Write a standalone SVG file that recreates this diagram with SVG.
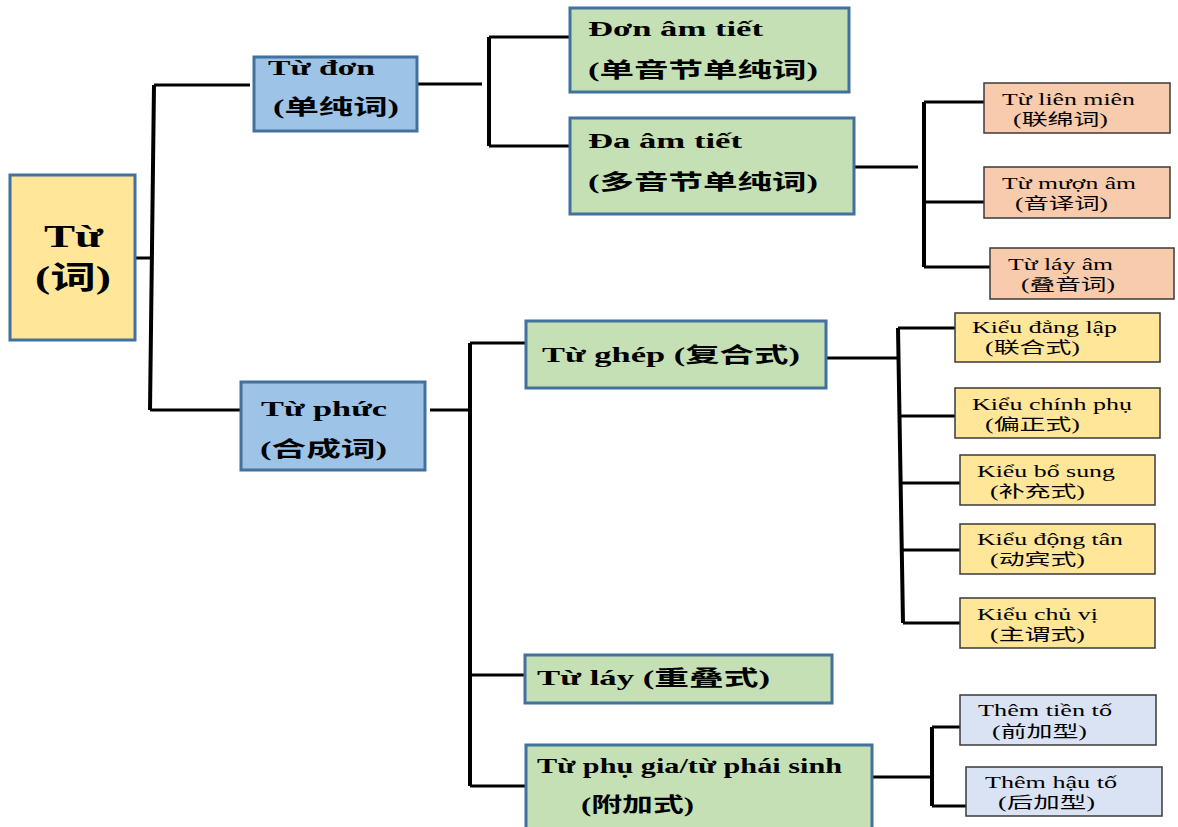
<svg xmlns="http://www.w3.org/2000/svg" width="1178" height="827" viewBox="0 0 1178 827">
<style>
.b{font-family:'Liberation Serif','Noto Sans CJK SC',serif;font-weight:bold;fill:#000}
.r{font-family:'Liberation Serif','Noto Sans CJK SC',serif;font-weight:normal;fill:#000}
.main{stroke:#41719C;stroke-width:3}
.small{stroke:#3A3A3A;stroke-width:1.5}
.c path{fill:none;stroke:#000;stroke-width:3}
.c path.v{stroke-width:4}
</style>
<rect width="1178" height="827" fill="#fff"/>
<g class="c" id="connectors">
<path d="M135 258H152"/><path class="v" d="M154 85L150 410"/><path d="M154 85H250"/><path d="M150 410H243"/>
<path d="M418 84H482"/><path class="v" d="M489 37V146"/><path d="M489 37H571"/><path d="M489 146H571"/>
<path d="M855 167H918"/><path class="v" d="M924 102V267"/><path d="M924 102H984"/><path d="M924 202H984"/><path d="M924 267H990"/>
<path d="M430 410H470"/><path class="v" d="M470 343V786"/><path d="M470 343H525"/><path d="M470 675H525"/><path d="M470 786H525"/>
<path d="M826 358H898"/><path class="v" d="M898 328L903 623"/><path d="M898 328H955"/><path d="M900 416H955"/><path d="M901 483H960"/><path d="M902 550H960"/><path d="M903 623H960"/>
<path d="M873 777H930"/><path class="v" d="M932 727V806"/><path d="M932 727H960"/><path d="M932 806H966"/>
</g>
<g id="tu">
<rect class="main" x="10" y="175" width="125" height="165" fill="#FFE699"/>
<text class="b" x="44" y="247" font-size="31" textLength="59" lengthAdjust="spacingAndGlyphs">Từ</text>
<text class="b" x="35" y="288" font-size="31" textLength="76" lengthAdjust="spacingAndGlyphs">(词)</text>
</g>
<g id="tu-don">
<rect class="main" x="254" y="57" width="163" height="74" fill="#9DC3E6"/>
<text class="b" x="268" y="75" font-size="22" textLength="107" lengthAdjust="spacingAndGlyphs">Từ đơn</text>
<text class="b" x="273" y="114" font-size="21" textLength="126" lengthAdjust="spacingAndGlyphs">(单纯词)</text>
</g>
<g id="tu-phuc">
<rect class="main" x="241" y="382" width="184" height="88" fill="#9DC3E6"/>
<text class="b" x="261" y="416" font-size="21" textLength="126" lengthAdjust="spacingAndGlyphs">Từ phức</text>
<text class="b" x="260" y="456" font-size="21" textLength="127" lengthAdjust="spacingAndGlyphs">(合成词)</text>
</g>
<g id="don-am-tiet">
<rect class="main" x="570" y="8" width="279" height="84" fill="#C5E0B4"/>
<text class="b" x="588" y="36" font-size="20" textLength="175" lengthAdjust="spacingAndGlyphs">Đơn âm tiết</text>
<text class="b" x="588" y="77" font-size="21" textLength="230" lengthAdjust="spacingAndGlyphs">(单音节单纯词)</text>
</g>
<g id="da-am-tiet">
<rect class="main" x="570" y="118" width="284" height="96" fill="#C5E0B4"/>
<text class="b" x="588" y="148" font-size="20" textLength="154" lengthAdjust="spacingAndGlyphs">Đa âm tiết</text>
<text class="b" x="588" y="189" font-size="21" textLength="230" lengthAdjust="spacingAndGlyphs">(多音节单纯词)</text>
</g>
<g id="tu-lien-mien">
<rect class="small" x="984" y="83" width="186" height="50" fill="#F8CBAD"/>
<text class="r" x="1002" y="105" font-size="17" textLength="133" lengthAdjust="spacingAndGlyphs">Từ liên miên</text>
<text class="r" x="1013" y="125" font-size="16" textLength="95" lengthAdjust="spacingAndGlyphs">(联绵词)</text>
</g>
<g id="tu-muon-am">
<rect class="small" x="984" y="167" width="186" height="51" fill="#F8CBAD"/>
<text class="r" x="1002" y="189" font-size="17" textLength="134" lengthAdjust="spacingAndGlyphs">Từ mượn âm</text>
<text class="r" x="1015" y="209" font-size="16" textLength="93" lengthAdjust="spacingAndGlyphs">(音译词)</text>
</g>
<g id="tu-lay-am">
<rect class="small" x="990" y="248" width="184" height="51" fill="#F8CBAD"/>
<text class="r" x="1008" y="270" font-size="17" textLength="105" lengthAdjust="spacingAndGlyphs">Từ láy âm</text>
<text class="r" x="1021" y="290" font-size="16" textLength="94" lengthAdjust="spacingAndGlyphs">(叠音词)</text>
</g>
<g id="tu-ghep">
<rect class="main" x="526" y="321" width="300" height="67" fill="#C5E0B4"/>
<text class="b" x="542" y="362" font-size="21" textLength="258" lengthAdjust="spacingAndGlyphs">Từ ghép (复合式)</text>
</g>
<g id="kieu-dang-lap">
<rect class="small" x="955" y="313" width="205" height="49" fill="#FFE699"/>
<text class="r" x="972" y="333" font-size="17" textLength="145" lengthAdjust="spacingAndGlyphs">Kiểu đẳng lập</text>
<text class="r" x="985" y="353" font-size="16" textLength="95" lengthAdjust="spacingAndGlyphs">(联合式)</text>
</g>
<g id="kieu-chinh-phu">
<rect class="small" x="955" y="388" width="205" height="50" fill="#FFE699"/>
<text class="r" x="972" y="410" font-size="17" textLength="160" lengthAdjust="spacingAndGlyphs">Kiểu chính phụ</text>
<text class="r" x="985" y="430" font-size="16" textLength="95" lengthAdjust="spacingAndGlyphs">(偏正式)</text>
</g>
<g id="kieu-bo-sung">
<rect class="small" x="960" y="455" width="195" height="50" fill="#FFE699"/>
<text class="r" x="977" y="477" font-size="17" textLength="138" lengthAdjust="spacingAndGlyphs">Kiểu bổ sung</text>
<text class="r" x="990" y="497" font-size="16" textLength="95" lengthAdjust="spacingAndGlyphs">(补充式)</text>
</g>
<g id="kieu-dong-tan">
<rect class="small" x="960" y="524" width="195" height="50" fill="#FFE699"/>
<text class="r" x="977" y="545" font-size="17" textLength="146" lengthAdjust="spacingAndGlyphs">Kiểu động tân</text>
<text class="r" x="990" y="565" font-size="16" textLength="95" lengthAdjust="spacingAndGlyphs">(动宾式)</text>
</g>
<g id="kieu-chu-vi">
<rect class="small" x="960" y="598" width="195" height="50" fill="#FFE699"/>
<text class="r" x="977" y="620" font-size="17" textLength="121" lengthAdjust="spacingAndGlyphs">Kiểu chủ vị</text>
<text class="r" x="990" y="640" font-size="16" textLength="95" lengthAdjust="spacingAndGlyphs">(主谓式)</text>
</g>
<g id="tu-lay">
<rect class="main" x="525" y="655" width="307" height="48" fill="#C5E0B4"/>
<text class="b" x="537" y="685" font-size="21" textLength="233" lengthAdjust="spacingAndGlyphs">Từ láy (重叠式)</text>
</g>
<g id="tu-phu-gia">
<rect class="main" x="526" y="745" width="346" height="95" fill="#C5E0B4"/>
<text class="b" x="537" y="773" font-size="21" textLength="305" lengthAdjust="spacingAndGlyphs">Từ phụ gia/từ phái sinh</text>
<text class="b" x="581" y="812" font-size="20" textLength="113" lengthAdjust="spacingAndGlyphs">(附加式)</text>
</g>
<g id="them-tien-to">
<rect class="small" x="960" y="695" width="196" height="50" fill="#DAE3F3"/>
<text class="r" x="978" y="716" font-size="17" textLength="134" lengthAdjust="spacingAndGlyphs">Thêm tiền tố</text>
<text class="r" x="992" y="737" font-size="16" textLength="95" lengthAdjust="spacingAndGlyphs">(前加型)</text>
</g>
<g id="them-hau-to">
<rect class="small" x="966" y="767" width="196" height="49" fill="#DAE3F3"/>
<text class="r" x="985" y="788" font-size="17" textLength="132" lengthAdjust="spacingAndGlyphs">Thêm hậu tố</text>
<text class="r" x="998" y="808" font-size="16" textLength="97" lengthAdjust="spacingAndGlyphs">(后加型)</text>
</g>
</svg>
